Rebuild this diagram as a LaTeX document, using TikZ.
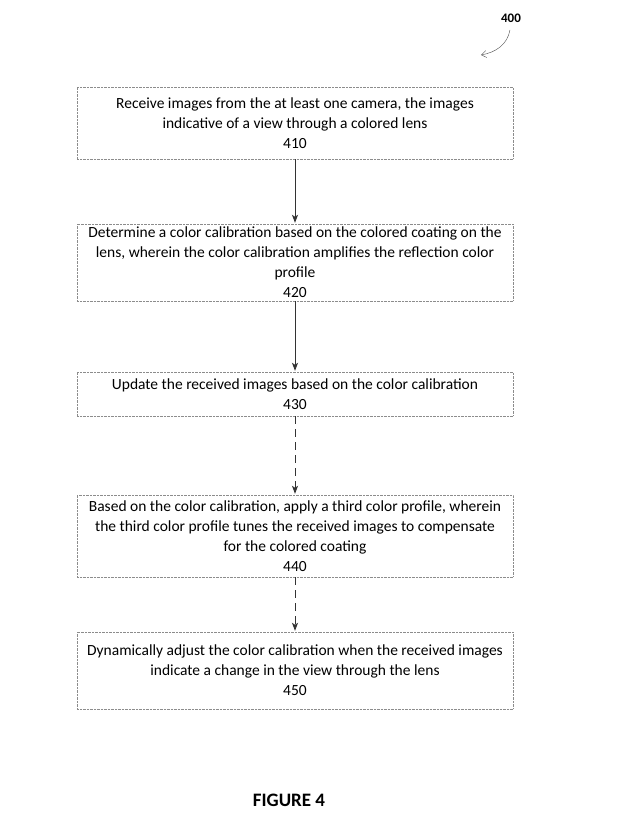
\documentclass[tikz,border=0pt]{standalone}
\usepackage{fontspec}
\setmainfont{Carlito}
\usepackage{tikz}
\usetikzlibrary{calc}
\usetikzlibrary{arrows.meta}
\usetikzlibrary{positioning}
\tikzset{stepbox/.style={draw=black!45,densely dotted,fill=white,minimum width=436pt,align=center,inner sep=2pt,font=\fontsize{15.5}{20}\selectfont}}
\tikzset{flow/.style={draw=black!80,thick,-{Stealth[length=8pt,width=6pt,inset=2pt]},shorten >=1pt}}

\begin{document}
\begin{tikzpicture}[x=1pt,y=-1pt]
\useasboundingbox (0,0) rectangle (618,831);

   \node[stepbox,minimum height=72pt] (A) at (295,123){Receive images from the at least one camera, the images\\indicative of a view through a colored lens\\410};
   \node[stepbox,minimum height=77pt] (B) at (295,262.5){Determine a color calibration based on the colored coating on the\\lens, wherein the color calibration amplifies the reflection color\\profile\\420};
   \node[stepbox,minimum height=44pt] (C) at (295,394){Update the received images based on the color calibration\\430};
   \node[stepbox,minimum height=82pt] (D) at (295,536){Based on the color calibration, apply a third color profile, wherein\\the third color profile tunes the received images to compensate\\for the colored coating\\440};
   \node[stepbox,minimum height=77pt] (E) at (295,670.5){Dynamically adjust the color calibration when the received images\\indicate a change in the view through the lens\\450};

    \draw[flow] (A) -- (B);
    \draw[flow] (B) -- (C);
    \draw[flow, dash pattern=on 8pt off 5pt] (C) -- (D);
    \draw[flow, dash pattern=on 8pt off 5pt] (D) -- (E);

   \node[font=\fontsize{13}{15}\selectfont\bfseries] (ref) at (511,18){400};
   \coordinate (refend) at (481,55);
    \draw[black!70,-{Straight Barb[length=5pt,width=7pt]}] (ref.south) ++(-1,4) to[out=-100,in=10] (refend);

   \node[font=\fontsize{19}{21}\selectfont\bfseries] (fig) at (289,800){FIGURE 4};

\end{tikzpicture}
\end{document}
